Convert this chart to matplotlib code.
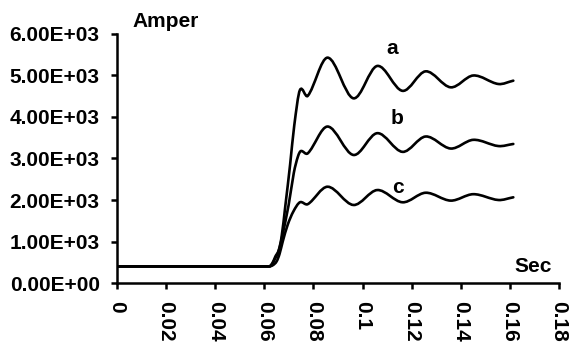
import numpy as np
import matplotlib
matplotlib.use('Agg')
from matplotlib import pyplot as plt
from matplotlib.path import Path
from matplotlib.patches import PathPatch
from matplotlib.ticker import FuncFormatter

plt.rcParams['font.family'] = ['Liberation Sans', 'DejaVu Sans']
plt.rcParams['font.weight'] = 'bold'

#%% Data (time in s, current in A)
t_a = [0, 0.062, 0.0633, 0.0645, 0.0658, 0.067, 0.0686, 0.0705, 0.0722, 0.0745,
       0.0777, 0.0858, 0.0963, 0.106, 0.1163, 0.1257, 0.1359, 0.1451, 0.1553, 0.1614]
i_a = [400, 400, 480, 640, 780, 1100, 1880, 2850, 3800, 4650,
       4510, 5430, 4450, 5230, 4630, 5100, 4715, 5000, 4795, 4875]

t_b = [0, 0.062, 0.0633, 0.0645, 0.0658, 0.067, 0.0699, 0.072, 0.0737, 0.0749,
       0.0777, 0.0858, 0.0963, 0.106, 0.1163, 0.1257, 0.1359, 0.1451, 0.1553, 0.1614]
i_b = [400, 400, 470, 600, 760, 1050, 1880, 2650, 3050, 3180,
       3125, 3770, 3085, 3610, 3160, 3530, 3240, 3450, 3300, 3350]

t_c = [0, 0.062, 0.0635, 0.065, 0.0662, 0.0675, 0.0695, 0.0718, 0.0745,
       0.0777, 0.0858, 0.0963, 0.106, 0.1163, 0.1257, 0.1359, 0.1451, 0.1553, 0.1614]
i_c = [400, 400, 430, 520, 700, 1000, 1400, 1720, 1945,
       1900, 2320, 1880, 2240, 1945, 2175, 1985, 2140, 2000, 2065]

x_ticks = [0, 0.02, 0.04, 0.06, 0.08, 0.1, 0.12, 0.14, 0.16, 0.18]
y_ticks = [0, 1000, 2000, 3000, 4000, 5000, 6000]


#%% Smoothed line as a bezier path through the points
def smooth_path(x, y):
    x = np.asarray(x, float)
    y = np.asarray(y, float)
    n = len(x)
    m = np.zeros(n)
    m[1:-1] = (y[2:] - y[:-2]) / (x[2:] - x[:-2])
    m[-1] = (y[-1] - y[-2]) / (x[-1] - x[-2])
    # keep the flat pre-fault part flat
    m[1:][y[1:] == y[:-1]] = 0
    verts = [(x[0], y[0])]
    codes = [Path.MOVETO]
    for k in range(n - 1):
        h = (x[k + 1] - x[k]) / 3
        verts += [(x[k] + h, y[k] + m[k] * h),
                  (x[k + 1] - h, y[k + 1] - m[k + 1] * h),
                  (x[k + 1], y[k + 1])]
        codes += [Path.CURVE4] * 3
    return Path(verts, codes)


#%% PLOTTING
fs = 15
fig = plt.figure(figsize=(5.69, 3.44), dpi=100)
ax = fig.add_axes([0.2056, 0.1773, 0.7768, 0.7239])

for t, i in [(t_a, i_a), (t_b, i_b), (t_c, i_c)]:
    ax.add_patch(PathPatch(smooth_path(t, i), fill=False, lw=1.9,
                           edgecolor='black', capstyle='round', joinstyle='round'))

ax.set_xlim(0, 0.18)
ax.set_ylim(0, 6000)
ax.set_xticks(x_ticks)
ax.set_yticks(y_ticks)
ax.xaxis.set_major_formatter(FuncFormatter(lambda v, p: '%g' % round(v, 3)))
ax.yaxis.set_major_formatter(FuncFormatter(lambda v, p: '%.2E' % v))

for side in ['top', 'right']:
    ax.spines[side].set_visible(False)
for side in ['left', 'bottom']:
    ax.spines[side].set_linewidth(1.8)

ax.tick_params(direction='out', length=4, width=1.8, labelsize=fs)
ax.tick_params(axis='x', pad=9)
ax.tick_params(axis='y', pad=8.5)
for lab in ax.get_xticklabels():
    lab.set_rotation(-90)
    lab.set_fontweight('bold')
for lab in ax.get_yticklabels():
    lab.set_fontweight('bold')

# Curve names and axis captions
ax.text(0.1119, 5655, 'a', fontsize=fs, fontweight='bold', ha='center', va='center')
ax.text(0.1139, 3970, 'b', fontsize=fs, fontweight='bold', ha='center', va='center')
ax.text(0.1146, 2305, 'c', fontsize=fs, fontweight='bold', ha='center', va='center')
ax.text(0.0065, 6310, 'Amper', fontsize=fs, fontweight='bold', ha='left', va='center',
        clip_on=False)
ax.text(0.162, 400, 'Sec', fontsize=fs, fontweight='bold', ha='left', va='center')

fig.savefig('out.png', dpi=100)
